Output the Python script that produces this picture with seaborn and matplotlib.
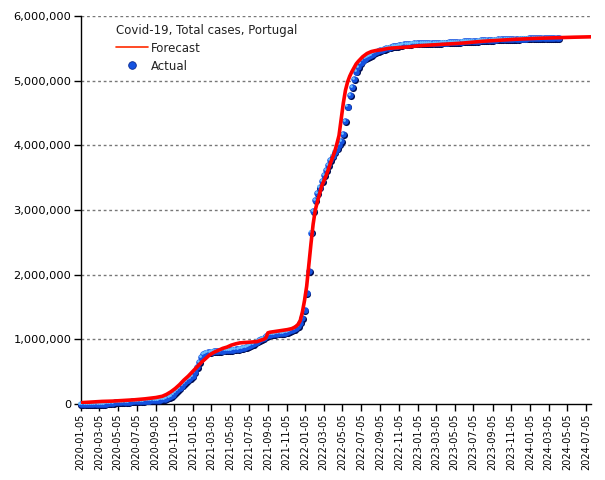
import numpy as np
import pandas as pd
import matplotlib
matplotlib.use("Agg")
import matplotlib.pyplot as plt
import matplotlib.dates as mdates
import matplotlib.transforms as mtransforms
from matplotlib.lines import Line2D
from matplotlib.ticker import FuncFormatter
import seaborn as sns

# ---------------- data (thousands of cases) ----------------
actual_start = "2020-01-05"   # weekly observations
actual_k = [
    0, 0, 0, 0, 0, 0, 0, 0, 0, 0,
    0.2, 1.6, 6, 11, 17, 20, 24, 25, 27, 29,
    31, 32, 34, 36, 39, 42, 44, 46, 48, 50,
    52, 53, 54, 56, 57, 60, 63, 68, 74, 78,
    88, 104, 121, 144, 179, 211, 250, 285, 319, 351,
    378, 400, 431, 496, 566, 653, 720, 770, 790, 801,
    806, 811, 815, 818, 821, 823, 826, 829, 833, 836,
    839, 842, 845, 850, 857, 864, 873, 884, 900, 915,
    932, 950, 965, 985, 1005, 1025, 1045, 1062, 1073, 1081,
    1086, 1090, 1093, 1096, 1100, 1105, 1114, 1125, 1140, 1160,
    1180, 1210, 1260, 1330, 1450, 1720, 2050, 2650, 2980, 3150,
    3260, 3350, 3450, 3540, 3620, 3700, 3770, 3830, 3890, 3950,
    4010, 4060, 4170, 4380, 4600, 4780, 4900, 5030, 5140, 5210,
    5270, 5310, 5340, 5360, 5380, 5400, 5420, 5440, 5455, 5470,
    5480, 5490, 5500, 5510, 5520, 5530, 5535, 5540, 5550, 5555,
    5560, 5563, 5567, 5570, 5572, 5575, 5576, 5577, 5578, 5579,
    5580, 5581, 5582, 5583, 5584, 5585, 5586, 5587, 5588, 5589,
    5590, 5592, 5594, 5596, 5598, 5600, 5602, 5604, 5606, 5608,
    5610, 5612, 5614, 5616, 5618, 5620, 5622, 5624, 5626, 5628,
    5630, 5632, 5634, 5636, 5638, 5640, 5641, 5642, 5643, 5644,
    5645, 5646, 5647, 5648, 5649, 5650, 5651, 5652, 5653, 5654,
    5655, 5656, 5657, 5658, 5659, 5660, 5660, 5660, 5661, 5661,
    5661, 5662, 5662,
]

forecast_dates = [
    "2020-01-05", "2020-02-09", "2020-03-15", "2020-04-19", "2020-05-24",
    "2020-06-28", "2020-08-02", "2020-09-06", "2020-09-27", "2020-10-11",
    "2020-10-25", "2020-11-08", "2020-11-22", "2020-12-06", "2020-12-20",
    "2021-01-03", "2021-01-17", "2021-01-31", "2021-02-14", "2021-02-28",
    "2021-03-14", "2021-03-28", "2021-04-11", "2021-04-25", "2021-05-09",
    "2021-05-23", "2021-06-06", "2021-06-20", "2021-07-04", "2021-07-18",
    "2021-08-01", "2021-08-15", "2021-08-22", "2021-08-29", "2021-09-05",
    "2021-09-12", "2021-09-26", "2021-10-10", "2021-10-24", "2021-11-07",
    "2021-11-21", "2021-11-28", "2021-12-05", "2021-12-12", "2021-12-19",
    "2021-12-26", "2022-01-02", "2022-01-09", "2022-01-16", "2022-01-23",
    "2022-01-30", "2022-02-06", "2022-02-13", "2022-02-20", "2022-02-27",
    "2022-03-06", "2022-03-13", "2022-03-20", "2022-03-27", "2022-04-03",
    "2022-04-10", "2022-04-17", "2022-04-24", "2022-05-01", "2022-05-08",
    "2022-05-15", "2022-05-22", "2022-05-29", "2022-06-05", "2022-06-12",
    "2022-06-19", "2022-06-26", "2022-07-10", "2022-07-24", "2022-08-07",
    "2022-08-21", "2022-09-11", "2022-10-02", "2022-10-30", "2022-12-04",
    "2023-01-08", "2023-02-12", "2023-03-19", "2023-04-23", "2023-05-28",
    "2023-07-02", "2023-08-06", "2023-09-10", "2023-11-19", "2024-01-28",
    "2024-04-07", "2024-05-26", "2024-07-21",
]
forecast_k = [
    20, 30, 40, 45, 55,
    65, 80, 100, 120, 150,
    190, 240, 300, 370, 430,
    500, 570, 640, 700, 760,
    800, 830, 860, 880, 910,
    930, 945, 950, 955, 960,
    965, 990, 1000, 1020, 1100,
    1110, 1120, 1130, 1140, 1150,
    1165, 1180, 1200, 1230, 1290,
    1420, 1600, 1820, 2150, 2480,
    2780, 3000, 3130, 3250, 3370,
    3450, 3530, 3620, 3720, 3810,
    3900, 4020, 4150, 4400, 4650,
    4850, 4980, 5070, 5140, 5200,
    5260, 5300, 5370, 5420, 5450,
    5465, 5480, 5500, 5510, 5520,
    5540, 5550, 5560, 5570, 5580,
    5595, 5610, 5620, 5640, 5655,
    5665, 5672, 5678,
]

tick_dates = pd.date_range("2020-01-01", "2024-07-01", freq="2MS") + pd.Timedelta(days=4)
y_ticks = [0, 1e6, 2e6, 3e6, 4e6, 5e6, 6e6]

# ---------------- build frames ----------------
actual_df = pd.DataFrame({
    "date": pd.date_range(actual_start, periods=len(actual_k), freq="7D"),
    "cases": np.array(actual_k) * 1000.0,
})
forecast_df = pd.DataFrame({
    "date": pd.to_datetime(forecast_dates),
    "cases": np.array(forecast_k) * 1000.0,
})

sns.set_style("white")
plt.rcParams["font.family"] = ["DejaVu Sans"]

fig = plt.figure(figsize=(6.05, 4.80), dpi=100)
ax = fig.add_axes([80.5 / 605, 76 / 480, (591 - 80.5) / 605, (404 - 16) / 480])

# grid
for v in y_ticks[1:]:
    ax.axhline(v, color="#777777", lw=1.0, ls=(0, (2, 2)), zorder=1)

# actual: 3D-looking balls (shadow, body, highlight)
shadow_tr = mtransforms.offset_copy(ax.transData, fig=fig, x=0.8, y=-0.8, units="dots")
hi_tr = mtransforms.offset_copy(ax.transData, fig=fig, x=-1.2, y=1.2, units="dots")
ax.scatter(actual_df["date"], actual_df["cases"], s=26, color="#000c50",
           linewidths=0, transform=shadow_tr, zorder=3, clip_on=False)
sns.scatterplot(data=actual_df, x="date", y="cases", ax=ax, s=22,
                color="#1552e0", linewidth=0, zorder=4, clip_on=False, legend=False)
ax.scatter(actual_df["date"], actual_df["cases"], s=4, color="#6cc2ff",
           linewidths=0, transform=hi_tr, zorder=5, clip_on=False)

# forecast line
sns.lineplot(data=forecast_df, x="date", y="cases", ax=ax, color="#ff0000",
             lw=2.6, zorder=6, legend=False)

ax.set_xlim(pd.Timestamp("2020-01-05"), pd.Timestamp("2024-07-21"))
ax.set_ylim(0, 6e6)
ax.set_xticks(tick_dates)
ax.xaxis.set_major_formatter(mdates.DateFormatter("%Y-%m-%d"))
ax.set_yticks(y_ticks)
ax.yaxis.set_major_formatter(FuncFormatter(lambda v, p: f"{int(v):,}"))
ax.set_xlabel("")
ax.set_ylabel("")

for s in ["top", "right"]:
    ax.spines[s].set_visible(False)
for s in ["left", "bottom"]:
    ax.spines[s].set_color("black")
    ax.spines[s].set_linewidth(1.0)

ax.tick_params(axis="y", direction="out", length=5, width=1, color="black",
               labelsize=8.2, pad=1.5, labelcolor="black", left=True)
ax.tick_params(axis="x", direction="out", length=5, width=1, color="black",
               labelsize=7.0, pad=2, labelcolor="black", rotation=90, bottom=True)

# legend
handles = [
    Line2D([], [], color="#ff2a00", lw=1.2),
    Line2D([], [], ls="none", marker="o", ms=5.5, markerfacecolor="#1552e0",
           markeredgecolor="#0a2a90", markeredgewidth=0.6),
]
leg = fig.legend(handles, ["Forecast", "Actual"], title="Covid-19, Total cases, Portugal",
                 loc="upper left", bbox_to_anchor=(108 / 605, 1 - 16 / 480),
                 frameon=False, fontsize=8.5, title_fontsize=8.5,
                 handlelength=2.7, handletextpad=0.3, labelspacing=0.42,
                 borderpad=0.15, alignment="left")
for t in leg.get_texts():
    t.set_color("#222222")
leg.get_title().set_color("#222222")

fig.savefig("out.png", dpi=100)
